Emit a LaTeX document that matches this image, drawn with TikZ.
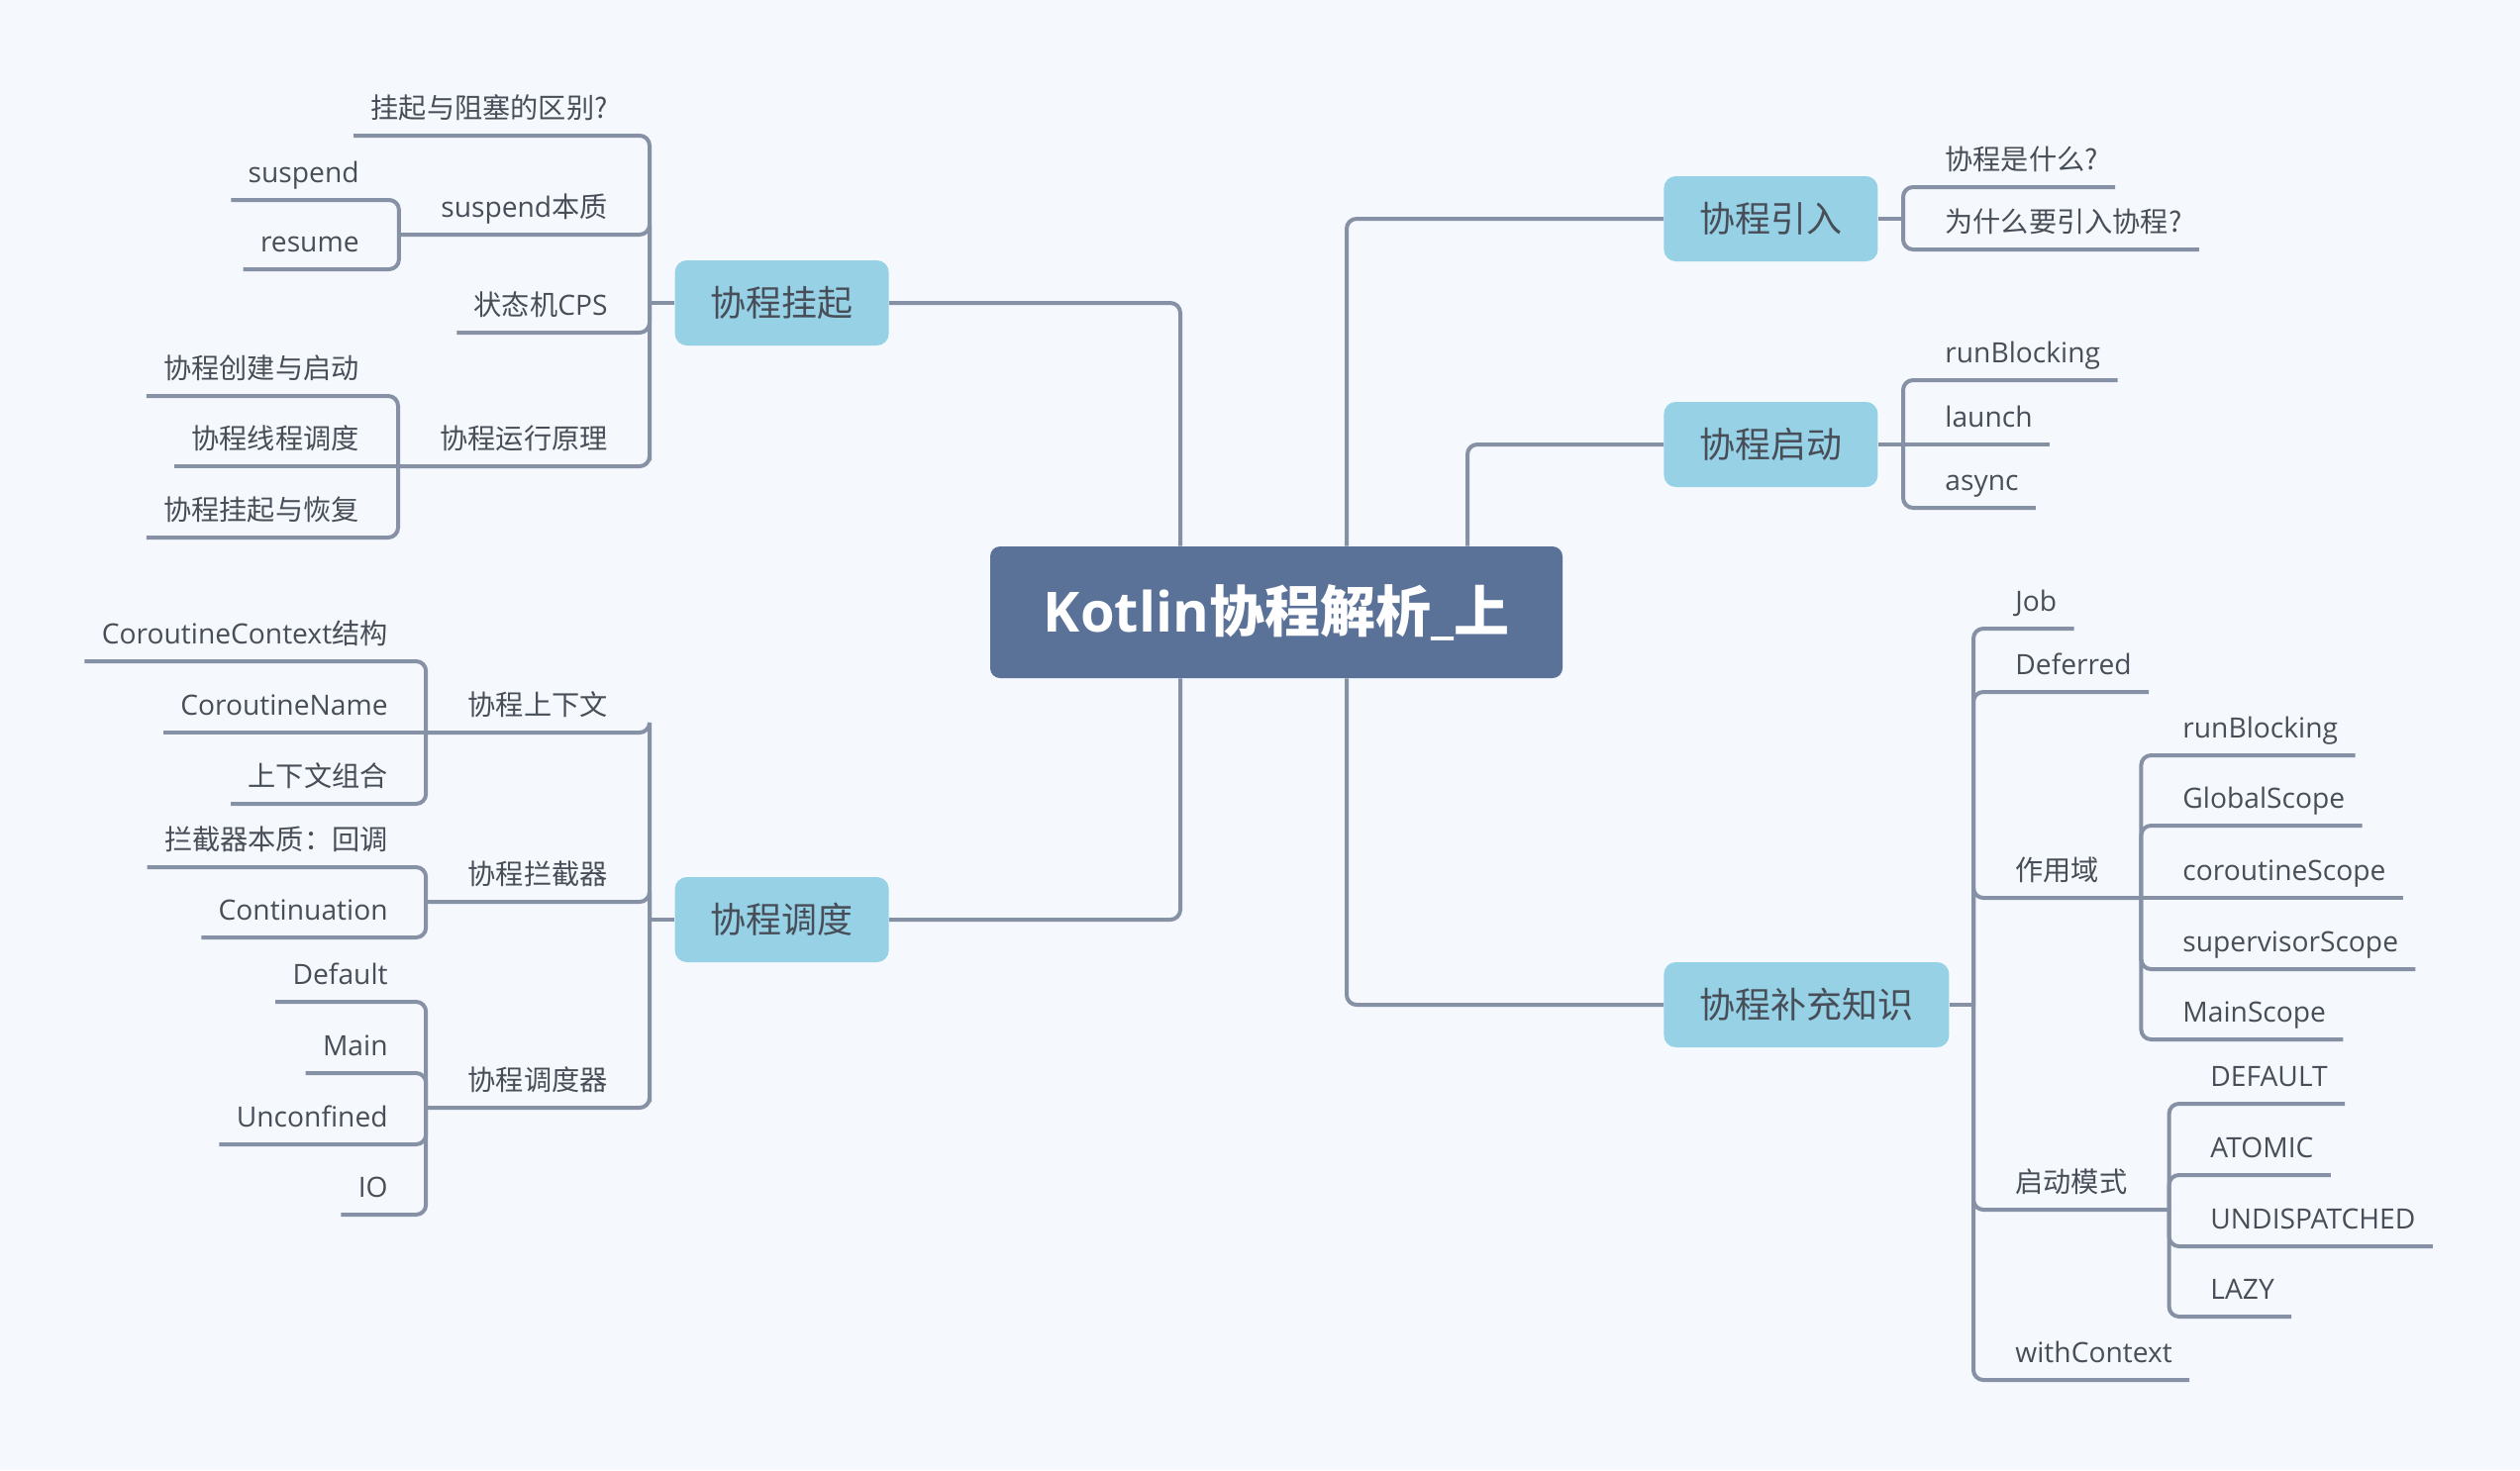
\documentclass[tikz,border=0pt]{standalone}
\usepackage{fontspec}
\setmainfont{Open Sans}
\newfontfamily\zh{Noto Sans CJK SC}
\definecolor{bg}{RGB}{245,249,253}
\definecolor{wire}{RGB}{135,145,165}
\definecolor{ink}{RGB}{72,78,88}
\definecolor{sky}{RGB}{150,209,230}
\definecolor{slate}{RGB}{90,113,152}

\begin{document}
\begin{tikzpicture}[x=0.5pt,y=-0.5pt,
   link/.style={draw=wire,line width=2pt,rounded corners=5pt},
   core/.style={fill=slate,rounded corners=5pt,text=white,font=\fontsize{28}{30}\selectfont\bfseries,minimum width=289pt,minimum height=66.5pt},
   topic/.style={fill=sky,rounded corners=6pt,text=ink,font=\zh\fontsize{18}{20}\selectfont,minimum height=43pt,inner xsep=18pt},
   leaf/.style={text=ink,font=\fontsize{14.1}{16}\selectfont,inner xsep=8.5pt,inner ysep=8.75pt,text depth=0pt},
   fork/.style={leaf,inner xsep=21pt}]
   \fill[bg] (0,0) rectangle (2545,1485);
   \node[core] (core) at (1289,618.5) {Kotlin{\zh 协程解析}\_{\zh 上}};

   \node[topic,anchor=east] (hang) at (898,306) {协程挂起};
   \coordinate (jHang) at (656,306);
   \node[leaf,anchor=south east] (diff)    at (631,137) {\zh 挂起与阻塞的区别?};
   \node[fork,anchor=south east] (susp)    at (656,237) {suspend{\zh 本质}};
   \node[leaf,anchor=south east] (cps)     at (631,336) {{\zh 状态机}CPS};
   \node[fork,anchor=south east] (how)     at (656,471) {\zh 协程运行原理};
   \node[leaf,anchor=south east] (suspend) at (380,202) {suspend};
   \node[leaf,anchor=south east] (resume)  at (380,272) {resume};
   \node[leaf,anchor=south east] (create)  at (380,400) {\zh 协程创建与启动};
   \node[leaf,anchor=south east] (thread)  at (380,471) {\zh 协程线程调度};
   \node[leaf,anchor=south east] (restore) at (380,543) {\zh 协程挂起与恢复};

   \node[topic,anchor=east] (sched) at (898,929) {协程调度};
   \coordinate (jSched) at (656,929);
   \node[fork,anchor=south east] (ctx)     at (656,740)  {\zh 协程上下文};
   \node[fork,anchor=south east] (icpt)    at (656,911)  {\zh 协程拦截器};
   \node[fork,anchor=south east] (disp)    at (656,1119) {\zh 协程调度器};
   \node[leaf,anchor=south east] (ctxs)    at (409,668)  {CoroutineContext{\zh 结构}};
   \node[leaf,anchor=south east] (cname)   at (409,740)  {CoroutineName};
   \node[leaf,anchor=south east] (combo)   at (409,812)  {\zh 上下文组合};
   \node[leaf,anchor=south east] (essence) at (409,876)  {\zh 拦截器本质：回调};
   \node[leaf,anchor=south east] (cont)    at (409,947)  {Continuation};
   \node[leaf,anchor=south east] (dflt)    at (409,1012) {Default};
   \node[leaf,anchor=south east] (main)    at (409,1084) {Main};
   \node[leaf,anchor=south east] (unconf)  at (409,1156) {Unconfined};
   \node[leaf,anchor=south east] (io)      at (409,1227) {IO};

   \node[topic,anchor=west] (intro) at (1680,221) {协程引入};
   \coordinate (jIntro) at (1922,221);
   \node[leaf,anchor=south west] (what)   at (1947,189) {\zh 协程是什么?};
   \node[leaf,anchor=south west] (why)    at (1947,252) {\zh 为什么要引入协程?};

   \node[topic,anchor=west] (start) at (1680,449) {协程启动};
   \coordinate (jStart) at (1922,449);
   \node[leaf,anchor=south west] (rb)     at (1947,384) {runBlocking};
   \node[leaf,anchor=south west] (launch) at (1947,449) {launch};
   \node[leaf,anchor=south west] (async)  at (1947,513) {async};

   \node[topic,anchor=west] (extra) at (1680,1015) {协程补充知识};
   \coordinate (jExtra) at (1993,1015);
   \node[leaf,anchor=south west] (job)      at (2018,635)  {Job};
   \node[leaf,anchor=south west] (deferred) at (2018,699)  {Deferred};
   \node[fork,anchor=south west] (scope)    at (1993,907)  {\zh 作用域};
   \node[fork,anchor=south west] (mode)     at (1993,1222) {\zh 启动模式};
   \node[leaf,anchor=south west] (withctx)  at (2018,1394) {withContext};
   \node[leaf,anchor=south west] (rbs)      at (2187,763)  {runBlocking};
   \node[leaf,anchor=south west] (gs)       at (2187,834)  {GlobalScope};
   \node[leaf,anchor=south west] (cs)       at (2187,907)  {coroutineScope};
   \node[leaf,anchor=south west] (ss)       at (2187,979)  {supervisorScope};
   \node[leaf,anchor=south west] (ms)       at (2187,1050) {MainScope};
   \node[leaf,anchor=south west] (lazyd)    at (2215,1115) {DEFAULT};
   \node[leaf,anchor=south west] (atomic)   at (2215,1187) {ATOMIC};
   \node[leaf,anchor=south west] (undisp)   at (2215,1259) {UNDISPATCHED};
   \node[leaf,anchor=south west] (lazy)     at (2215,1330) {LAZY};

   \draw[link] (hang.east)  -| ([xshift=-48.5pt]core.north);
   \draw[link] (sched.east) -| ([xshift=-48.5pt]core.south);
   \draw[link] (intro.west) -| ([xshift=35.5pt]core.north);
   \draw[link] (extra.west) -| ([xshift=35.5pt]core.south);
   \draw[link] (start.west) -| ([xshift=96.5pt]core.north);

   \draw[link] (hang.west) -- (jHang);
   \draw[link] (jHang) |- (diff.south east) -- (diff.south west);
   \draw[link] (jHang) |- (susp.south east) -- (susp.south west);
   \draw[link] (jHang) |- (cps.south east) -- (cps.south west);
   \draw[link] (jHang) |- (how.south east) -- (how.south west);
   \draw[link] (susp.south west) |- (suspend.south east) -- (suspend.south west);
   \draw[link] (susp.south west) |- (resume.south east) -- (resume.south west);
   \draw[link] (how.south west) |- (create.south east) -- (create.south west);
   \draw[link] (how.south west) -- (thread.south east) -- (thread.south west);
   \draw[link] (how.south west) |- (restore.south east) -- (restore.south west);

   \draw[link] (sched.west) -- (jSched);
   \draw[link] (jSched) |- (ctx.south east) -- (ctx.south west);
   \draw[link] (jSched) |- (icpt.south east) -- (icpt.south west);
   \draw[link] (jSched) |- (disp.south east) -- (disp.south west);
   \draw[link] (ctx.south west) |- (ctxs.south east) -- (ctxs.south west);
   \draw[link] (ctx.south west) -- (cname.south east) -- (cname.south west);
   \draw[link] (ctx.south west) |- (combo.south east) -- (combo.south west);
   \draw[link] (icpt.south west) |- (essence.south east) -- (essence.south west);
   \draw[link] (icpt.south west) |- (cont.south east) -- (cont.south west);
   \draw[link] (disp.south west) |- (dflt.south east) -- (dflt.south west);
   \draw[link] (disp.south west) |- (main.south east) -- (main.south west);
   \draw[link] (disp.south west) |- (unconf.south east) -- (unconf.south west);
   \draw[link] (disp.south west) |- (io.south east) -- (io.south west);

   \draw[link] (intro.east) -- (jIntro);
   \draw[link] (jIntro) |- (what.south west) -- (what.south east);
   \draw[link] (jIntro) |- (why.south west) -- (why.south east);

   \draw[link] (start.east) -- (jStart);
   \draw[link] (jStart) |- (rb.south west) -- (rb.south east);
   \draw[link] (jStart) -- (launch.south west) -- (launch.south east);
   \draw[link] (jStart) |- (async.south west) -- (async.south east);

   \draw[link] (extra.east) -- (jExtra);
   \draw[link] (jExtra) |- (job.south west) -- (job.south east);
   \draw[link] (jExtra) |- (deferred.south west) -- (deferred.south east);
   \draw[link] (jExtra) |- (scope.south west) -- (scope.south east);
   \draw[link] (jExtra) |- (mode.south west) -- (mode.south east);
   \draw[link] (jExtra) |- (withctx.south west) -- (withctx.south east);
   \draw[link] (scope.south east) |- (rbs.south west) -- (rbs.south east);
   \draw[link] (scope.south east) |- (gs.south west) -- (gs.south east);
   \draw[link] (scope.south east) -- (cs.south west) -- (cs.south east);
   \draw[link] (scope.south east) |- (ss.south west) -- (ss.south east);
   \draw[link] (scope.south east) |- (ms.south west) -- (ms.south east);
   \draw[link] (mode.south east) |- (lazyd.south west) -- (lazyd.south east);
   \draw[link] (mode.south east) |- (atomic.south west) -- (atomic.south east);
   \draw[link] (mode.south east) |- (undisp.south west) -- (undisp.south east);
   \draw[link] (mode.south east) |- (lazy.south west) -- (lazy.south east);
\end{tikzpicture}
\end{document}
